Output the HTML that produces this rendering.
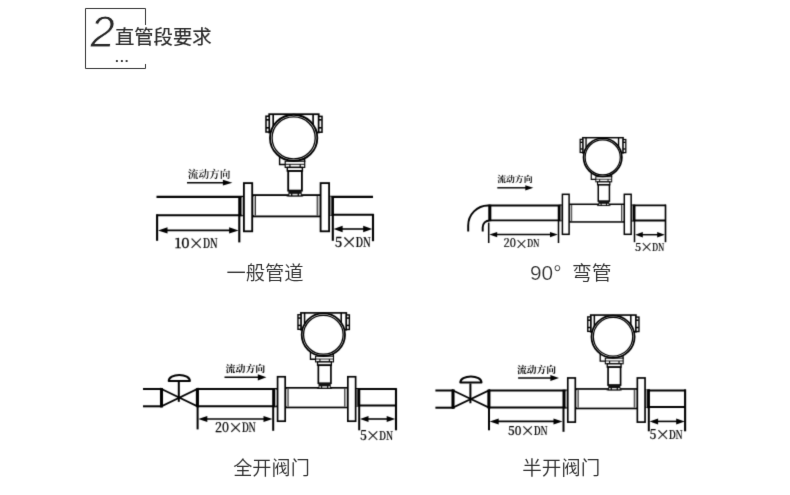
<!DOCTYPE html>
<html lang="zh-CN">
<head>
<meta charset="utf-8">
<title>直管段要求</title>
<style>
html,body{margin:0;padding:0;background:#fff;}
body{width:790px;height:495px;overflow:hidden;font-family:"Liberation Sans","Noto Sans CJK SC",sans-serif;}
svg{display:block;position:absolute;left:0;top:0;}
text{white-space:pre;}
</style>
</head>
<body>
<svg width="790" height="495" viewBox="0 0 790 495">
<filter id="soft" x="0" y="0" width="790" height="495" filterUnits="userSpaceOnUse" color-interpolation-filters="sRGB">
<feConvolveMatrix order="3" kernelMatrix="1 6 1 6 36 6 1 6 1" divisor="64" edgeMode="duplicate" preserveAlpha="false"/>
</filter>
<filter id="soft2" x="0" y="0" width="790" height="495" filterUnits="userSpaceOnUse" color-interpolation-filters="sRGB">
<feConvolveMatrix order="3" kernelMatrix="0 1 0 1 10 1 0 1 0" divisor="14" edgeMode="duplicate" preserveAlpha="false"/>
</filter>
<rect x="0" y="0" width="790" height="495" fill="#fff"/>
<g filter="url(#soft)">
<g><line x1="156.5" y1="196.9" x2="244" y2="196.9" stroke="#000" stroke-width="2.12" stroke-linecap="butt"/>
<line x1="156.3" y1="215.3" x2="244" y2="215.3" stroke="#000" stroke-width="2.12" stroke-linecap="butt"/>
<line x1="157.1" y1="214.4" x2="157.1" y2="240.8" stroke="#000" stroke-width="2.12" stroke-linecap="butt"/>
<line x1="239.3" y1="196" x2="239.3" y2="242.4" stroke="#000" stroke-width="2.12" stroke-linecap="butt"/>
<line x1="240.6" y1="196" x2="240.6" y2="216.2" stroke="#000" stroke-width="2.12" stroke-linecap="butt"/>
<line x1="242.3" y1="197" x2="242.3" y2="215.2" stroke="#bbb" stroke-width="1.3" stroke-linecap="butt"/>
<line x1="165.6" y1="230.4" x2="231" y2="230.4" stroke="#000" stroke-width="1.59" stroke-linecap="butt"/><polygon points="158,230.4 167.5,227.2 167.5,233.6" fill="#000"/><polygon points="238.6,230.4 229.1,227.2 229.1,233.6" fill="#000"/>
<line x1="329" y1="196.9" x2="373" y2="196.9" stroke="#000" stroke-width="2.12" stroke-linecap="butt"/>
<line x1="329" y1="214.8" x2="373.8" y2="214.8" stroke="#000" stroke-width="2.12" stroke-linecap="butt"/>
<line x1="332.8" y1="196" x2="332.8" y2="240.8" stroke="#000" stroke-width="2.12" stroke-linecap="butt"/>
<line x1="330.8" y1="196.5" x2="330.8" y2="215.3" stroke="#999" stroke-width="1.89" stroke-linecap="butt"/>
<line x1="332.6" y1="196" x2="332.6" y2="215.7" stroke="#000" stroke-width="2.24" stroke-linecap="butt"/>
<line x1="373" y1="214" x2="373" y2="241.2" stroke="#000" stroke-width="2.12" stroke-linecap="butt"/>
<line x1="340.8" y1="229" x2="365" y2="229" stroke="#000" stroke-width="1.59" stroke-linecap="butt"/><polygon points="333.6,229 342.6,225.8 342.6,232.2" fill="#000"/><polygon points="372.2,229 363.2,225.8 363.2,232.2" fill="#000"/>
<g transform="matrix(1 0 0 1 0 0)">
<rect x="252.8" y="195.1" width="68" height="21.3" rx="0" fill="#fff" stroke="#000" stroke-width="1.83"/>
<rect x="252.8" y="196.5" width="2.5" height="18.5" rx="0" fill="#c8c8c8" stroke="none" stroke-width="0"/>
<line x1="255.4" y1="196" x2="255.4" y2="215.5" stroke="#222" stroke-width="1.06" stroke-linecap="butt"/>
<rect x="317.3" y="196.5" width="3.3" height="18.5" rx="0" fill="#c8c8c8" stroke="none" stroke-width="0"/>
<line x1="317.2" y1="196" x2="317.2" y2="215.5" stroke="#222" stroke-width="1.06" stroke-linecap="butt"/>
<rect x="243.9" y="183.1" width="8.3" height="48.2" rx="0" fill="#fff" stroke="#000" stroke-width="1.83"/>
<rect x="320.6" y="183.1" width="8.5" height="48.2" rx="0" fill="#fff" stroke="#000" stroke-width="1.83"/>
</g>
<g transform="matrix(1 0 0 1 0 0)">
<rect x="269.2" y="114.2" width="49.5" height="18.3" rx="0" fill="#fff" stroke="#000" stroke-width="1.77"/>
<rect x="266" y="116.2" width="3.2" height="15.8" rx="0" fill="#fff" stroke="#000" stroke-width="1.53"/>
<rect x="318.7" y="116.4" width="3.3" height="15.8" rx="0" fill="#fff" stroke="#000" stroke-width="1.53"/>
<line x1="266" y1="119.8" x2="269" y2="119.8" stroke="#000" stroke-width="1.65" stroke-linecap="butt"/>
<line x1="266" y1="127.8" x2="269" y2="127.8" stroke="#000" stroke-width="1.65" stroke-linecap="butt"/>
<line x1="318.7" y1="119.8" x2="321.7" y2="119.8" stroke="#000" stroke-width="1.65" stroke-linecap="butt"/>
<line x1="318.7" y1="127.8" x2="321.7" y2="127.8" stroke="#000" stroke-width="1.65" stroke-linecap="butt"/>
<line x1="273.2" y1="114" x2="273.2" y2="126" stroke="#000" stroke-width="1.65" stroke-linecap="butt"/>
<line x1="313.1" y1="114" x2="313.1" y2="126" stroke="#000" stroke-width="1.65" stroke-linecap="butt"/>
<path d="M279.6 152 V164.5 H285.6 M304.6 154 V162" fill="none" stroke="#000" stroke-width="1.42"/>
<rect x="285.2" y="161.2" width="19.5" height="6.2" rx="0" fill="#fff" stroke="#000" stroke-width="1.18"/>
<line x1="285.2" y1="164.3" x2="304.7" y2="164.3" stroke="#000" stroke-width="0.94" stroke-linecap="butt"/>
<line x1="289.9" y1="164.3" x2="289.9" y2="167.4" stroke="#000" stroke-width="1.18" stroke-linecap="butt"/>
<line x1="300.2" y1="164.3" x2="300.2" y2="167.4" stroke="#000" stroke-width="1.18" stroke-linecap="butt"/>
<rect x="287.3" y="167.4" width="15.1" height="3.6" rx="0" fill="#fff" stroke="#000" stroke-width="1.42"/>
<rect x="288.2" y="171" width="13.7" height="19.6" rx="0" fill="#fff" stroke="#000" stroke-width="1.83"/>
<rect x="288.4" y="190.4" width="13.3" height="6" rx="0" fill="#111" stroke="none" stroke-width="0"/>
<rect x="289.3" y="193.8" width="1.7" height="1.9" rx="0" fill="#ddd" stroke="none" stroke-width="0"/>
<rect x="299" y="193.8" width="1.9" height="1.9" rx="0" fill="#ddd" stroke="none" stroke-width="0"/>
<rect x="292.4" y="193.8" width="5.2" height="1.9" rx="0" fill="#ddd" stroke="none" stroke-width="0"/>
<ellipse cx="293.65" cy="137.9" rx="23.65" ry="23.15" fill="#fff" stroke="#000" stroke-width="1.85"/>
<ellipse cx="293.65" cy="137.9" rx="21.55" ry="21.05" fill="#fff" stroke="#000" stroke-width="1.3"/>
<line x1="286.6" y1="196" x2="303.2" y2="196" stroke="#000" stroke-width="0.94" stroke-linecap="butt"/>
</g>
<line x1="187" y1="182.7" x2="224.8" y2="182.7" stroke="#000" stroke-width="1.59" stroke-linecap="butt"/><polygon points="232.4,182.7 222.9,179.8 222.9,185.6" fill="#000"/>
<text x="0" y="0" font-family='"Noto Serif CJK SC","Liberation Serif",serif' font-size="10.71" font-weight="600" text-anchor="start" fill="#000" transform="matrix(1 0 0 0.91 187.72 178.27)">流动方向</text>
<text y="247.8" font-family='"Noto Serif CJK SC","Liberation Serif",serif' font-size="13.28" font-weight="700" fill="#000"><tspan x="174.43" font-weight="500" stroke="#000" stroke-width="0.27" textLength="15.14" lengthAdjust="spacingAndGlyphs">10</tspan><tspan x="188.58" dy="1.07" font-size="15.45" font-weight="900" stroke="#000" stroke-width="0.29">×</tspan><tspan x="202.77" dy="-1.07" font-weight="600" stroke="#000" stroke-width="0.21" textLength="14.96" lengthAdjust="spacingAndGlyphs">DN</tspan></text>
<text y="247.4" font-family='"Noto Serif CJK SC","Liberation Serif",serif' font-size="13.53" font-weight="700" fill="#000"><tspan x="334.66" font-weight="500" stroke="#000" stroke-width="0.27" textLength="7.48" lengthAdjust="spacingAndGlyphs">5</tspan><tspan x="341.15" dy="1.09" font-size="15.74" font-weight="900" stroke="#000" stroke-width="0.3">×</tspan><tspan x="355.6" dy="-1.09" font-weight="600" stroke="#000" stroke-width="0.22" textLength="15.24" lengthAdjust="spacingAndGlyphs">DN</tspan></text></g>
<g><line x1="489" y1="205.5" x2="562" y2="205.5" stroke="#000" stroke-width="1.89" stroke-linecap="butt"/>
<line x1="489" y1="220.4" x2="562" y2="220.4" stroke="#000" stroke-width="1.89" stroke-linecap="butt"/>
<line x1="489.8" y1="204.7" x2="489.8" y2="221.2" stroke="#000" stroke-width="3.07" stroke-linecap="butt"/>
<path d="M489.5 205.5 H488 A19.8 20 0 0 0 468.2 225.5 V231.4" fill="none" stroke="#000" stroke-width="1.95"/>
<path d="M489.5 220.4 A6.8 6.8 0 0 0 482.7 227.2 V231.4" fill="none" stroke="#000" stroke-width="1.95"/>
<line x1="488.7" y1="222.6" x2="488.7" y2="243" stroke="#000" stroke-width="1.53" stroke-linecap="butt"/>
<line x1="558.5" y1="205" x2="558.5" y2="243" stroke="#000" stroke-width="1.53" stroke-linecap="butt"/>
<line x1="559.7" y1="204.7" x2="559.7" y2="221.2" stroke="#000" stroke-width="2.12" stroke-linecap="butt"/>
<line x1="561.3" y1="205.4" x2="561.3" y2="220.6" stroke="#999" stroke-width="1.65" stroke-linecap="butt"/>
<line x1="495.64" y1="234.6" x2="551.56" y2="234.6" stroke="#000" stroke-width="1.47" stroke-linecap="butt"/><polygon points="489.4,234.6 497.2,231.9 497.2,237.3" fill="#000"/><polygon points="557.8,234.6 550,231.9 550,237.3" fill="#000"/>
<line x1="631" y1="205.4" x2="666" y2="205.4" stroke="#000" stroke-width="1.89" stroke-linecap="butt"/>
<line x1="631" y1="220.5" x2="666" y2="220.5" stroke="#000" stroke-width="1.89" stroke-linecap="butt"/>
<line x1="634.5" y1="205" x2="634.5" y2="242.2" stroke="#000" stroke-width="1.53" stroke-linecap="butt"/>
<line x1="632.3" y1="205.4" x2="632.3" y2="220.6" stroke="#999" stroke-width="2.12" stroke-linecap="butt"/>
<line x1="634.1" y1="204.6" x2="634.1" y2="221.2" stroke="#000" stroke-width="2.36" stroke-linecap="butt"/>
<line x1="665.5" y1="204.6" x2="665.5" y2="242.2" stroke="#000" stroke-width="1.65" stroke-linecap="butt"/>
<line x1="641.28" y1="234.7" x2="658.72" y2="234.7" stroke="#000" stroke-width="1.47" stroke-linecap="butt"/><polygon points="635.2,234.7 642.8,232 642.8,237.4" fill="#000"/><polygon points="664.8,234.7 657.2,232 657.2,237.4" fill="#000"/>
<g transform="matrix(0.807 0 0 0.83 365.58 42.34)">
<rect x="252.8" y="195.1" width="68" height="21.3" rx="0" fill="#fff" stroke="#000" stroke-width="1.83"/>
<rect x="252.8" y="196.5" width="2.5" height="18.5" rx="0" fill="#c8c8c8" stroke="none" stroke-width="0"/>
<line x1="255.4" y1="196" x2="255.4" y2="215.5" stroke="#222" stroke-width="1.06" stroke-linecap="butt"/>
<rect x="317.3" y="196.5" width="3.3" height="18.5" rx="0" fill="#c8c8c8" stroke="none" stroke-width="0"/>
<line x1="317.2" y1="196" x2="317.2" y2="215.5" stroke="#222" stroke-width="1.06" stroke-linecap="butt"/>
<rect x="243.9" y="183.1" width="8.3" height="48.2" rx="0" fill="#fff" stroke="#000" stroke-width="1.83"/>
<rect x="320.6" y="183.1" width="8.5" height="48.2" rx="0" fill="#fff" stroke="#000" stroke-width="1.83"/>
</g>
<g transform="matrix(0.815 0 0 0.83 363.38 42.91)">
<rect x="269.2" y="114.2" width="49.5" height="18.3" rx="0" fill="#fff" stroke="#000" stroke-width="1.77"/>
<rect x="266" y="116.2" width="3.2" height="15.8" rx="0" fill="#fff" stroke="#000" stroke-width="1.53"/>
<rect x="318.7" y="116.4" width="3.3" height="15.8" rx="0" fill="#fff" stroke="#000" stroke-width="1.53"/>
<line x1="266" y1="119.8" x2="269" y2="119.8" stroke="#000" stroke-width="1.65" stroke-linecap="butt"/>
<line x1="266" y1="127.8" x2="269" y2="127.8" stroke="#000" stroke-width="1.65" stroke-linecap="butt"/>
<line x1="318.7" y1="119.8" x2="321.7" y2="119.8" stroke="#000" stroke-width="1.65" stroke-linecap="butt"/>
<line x1="318.7" y1="127.8" x2="321.7" y2="127.8" stroke="#000" stroke-width="1.65" stroke-linecap="butt"/>
<line x1="273.2" y1="114" x2="273.2" y2="126" stroke="#000" stroke-width="1.65" stroke-linecap="butt"/>
<line x1="313.1" y1="114" x2="313.1" y2="126" stroke="#000" stroke-width="1.65" stroke-linecap="butt"/>
<path d="M279.6 152 V164.5 H285.6 M304.6 154 V162" fill="none" stroke="#000" stroke-width="1.42"/>
<rect x="285.2" y="161.2" width="19.5" height="6.2" rx="0" fill="#fff" stroke="#000" stroke-width="1.18"/>
<line x1="285.2" y1="164.3" x2="304.7" y2="164.3" stroke="#000" stroke-width="0.94" stroke-linecap="butt"/>
<line x1="289.9" y1="164.3" x2="289.9" y2="167.4" stroke="#000" stroke-width="1.18" stroke-linecap="butt"/>
<line x1="300.2" y1="164.3" x2="300.2" y2="167.4" stroke="#000" stroke-width="1.18" stroke-linecap="butt"/>
<rect x="287.3" y="167.4" width="15.1" height="3.6" rx="0" fill="#fff" stroke="#000" stroke-width="1.42"/>
<rect x="288.2" y="171" width="13.7" height="19.6" rx="0" fill="#fff" stroke="#000" stroke-width="1.83"/>
<rect x="288.4" y="190.4" width="13.3" height="6" rx="0" fill="#111" stroke="none" stroke-width="0"/>
<rect x="289.3" y="193.8" width="1.7" height="1.9" rx="0" fill="#ddd" stroke="none" stroke-width="0"/>
<rect x="299" y="193.8" width="1.9" height="1.9" rx="0" fill="#ddd" stroke="none" stroke-width="0"/>
<rect x="292.4" y="193.8" width="5.2" height="1.9" rx="0" fill="#ddd" stroke="none" stroke-width="0"/>
<ellipse cx="293.65" cy="137.9" rx="23.54" ry="23.04" fill="#fff" stroke="#000" stroke-width="2.07"/>
<ellipse cx="293.65" cy="137.9" rx="21.55" ry="21.05" fill="#fff" stroke="#000" stroke-width="1.46"/>
<line x1="286.6" y1="196" x2="303.2" y2="196" stroke="#000" stroke-width="0.94" stroke-linecap="butt"/>
</g>
<line x1="497.3" y1="187.8" x2="526.9" y2="187.8" stroke="#000" stroke-width="1.42" stroke-linecap="butt"/><polygon points="533.3,187.8 525.3,185.2 525.3,190.4" fill="#000"/>
<text x="0" y="0" font-family='"Noto Serif CJK SC","Liberation Serif",serif' font-size="8.86" font-weight="700" text-anchor="start" fill="#000" transform="matrix(1 0 0 0.9 497.2 181.82)">流动方向</text>
<text y="247.2" font-family='"Noto Serif CJK SC","Liberation Serif",serif' font-size="11.12" font-weight="700" fill="#000"><tspan x="503.59" font-weight="500" stroke="#000" stroke-width="0.22" textLength="12.29" lengthAdjust="spacingAndGlyphs">20</tspan><tspan x="515.06" dy="0.89" font-size="12.93" font-weight="900" stroke="#000" stroke-width="0.24">×</tspan><tspan x="526.94" dy="-0.89" font-weight="600" stroke="#000" stroke-width="0.18" textLength="12.52" lengthAdjust="spacingAndGlyphs">DN</tspan></text>
<text y="250.6" font-family='"Noto Serif CJK SC","Liberation Serif",serif' font-size="10.95" font-weight="700" fill="#000"><tspan x="635.06" font-weight="500" stroke="#000" stroke-width="0.22" textLength="6.05" lengthAdjust="spacingAndGlyphs">5</tspan><tspan x="640.32" dy="0.88" font-size="12.74" font-weight="900" stroke="#000" stroke-width="0.24">×</tspan><tspan x="652.02" dy="-0.88" font-weight="600" stroke="#000" stroke-width="0.18" textLength="12.34" lengthAdjust="spacingAndGlyphs">DN</tspan></text></g>
<g><line x1="143" y1="389" x2="163" y2="389" stroke="#000" stroke-width="2.01" stroke-linecap="butt"/>
<line x1="143" y1="406.3" x2="163" y2="406.3" stroke="#000" stroke-width="2.01" stroke-linecap="butt"/>
<path d="M161.5 389 L197.4 406.3 L197.4 389 L161.5 406.3 Z" fill="#fff" stroke="#000" stroke-width="1.8" stroke-linejoin="miter"/>
<line x1="161.5" y1="388.1" x2="161.5" y2="407.2" stroke="#000" stroke-width="3.07" stroke-linecap="butt"/>
<line x1="197.4" y1="388.1" x2="197.4" y2="407.2" stroke="#000" stroke-width="3.07" stroke-linecap="butt"/>
<line x1="178.8" y1="381.9" x2="178.8" y2="401.85" stroke="#000" stroke-width="2.01" stroke-linecap="butt"/>
<path d="M168.7 381.1 A10.6 6.2 0 0 1 189.9 381.1 Z" fill="#fff" stroke="#000" stroke-width="2.0" stroke-linejoin="round"/>
<line x1="197" y1="389" x2="277.5" y2="389" stroke="#000" stroke-width="2.01" stroke-linecap="butt"/>
<line x1="197" y1="406.3" x2="277.5" y2="406.3" stroke="#000" stroke-width="2.01" stroke-linecap="butt"/>
<line x1="197.6" y1="406" x2="197.6" y2="429.4" stroke="#000" stroke-width="2.01" stroke-linecap="butt"/>
<line x1="273.2" y1="388.2" x2="273.2" y2="430.8" stroke="#000" stroke-width="2.01" stroke-linecap="butt"/>
<line x1="274.3" y1="388.2" x2="274.3" y2="407.2" stroke="#000" stroke-width="1.89" stroke-linecap="butt"/>
<line x1="275.9" y1="389" x2="275.9" y2="406.3" stroke="#bbb" stroke-width="1.18" stroke-linecap="butt"/>
<line x1="205.5" y1="419" x2="265.3" y2="419" stroke="#000" stroke-width="1.59" stroke-linecap="butt"/><polygon points="198.3,419 207.3,416 207.3,422" fill="#000"/><polygon points="272.5,419 263.5,416 263.5,422" fill="#000"/>
<line x1="355" y1="389" x2="396.6" y2="389" stroke="#000" stroke-width="2.01" stroke-linecap="butt"/>
<line x1="355" y1="405.6" x2="396.6" y2="405.6" stroke="#000" stroke-width="2.01" stroke-linecap="butt"/>
<line x1="359.2" y1="388.2" x2="359.2" y2="430.3" stroke="#000" stroke-width="2.01" stroke-linecap="butt"/>
<line x1="356.9" y1="389" x2="356.9" y2="406" stroke="#999" stroke-width="2.36" stroke-linecap="butt"/>
<line x1="358.8" y1="388.2" x2="358.8" y2="406.4" stroke="#000" stroke-width="2.6" stroke-linecap="butt"/>
<line x1="396" y1="388.2" x2="396" y2="430.3" stroke="#000" stroke-width="2.12" stroke-linecap="butt"/>
<line x1="366.8" y1="419" x2="388.4" y2="419" stroke="#000" stroke-width="1.59" stroke-linecap="butt"/><polygon points="360,419 368.5,416 368.5,422" fill="#000"/><polygon points="395.2,419 386.7,416 386.7,422" fill="#000"/>
<g transform="matrix(0.916 0 0 0.922 54.17 207.94)">
<rect x="252.8" y="195.1" width="68" height="21.3" rx="0" fill="#fff" stroke="#000" stroke-width="1.83"/>
<rect x="252.8" y="196.5" width="2.5" height="18.5" rx="0" fill="#c8c8c8" stroke="none" stroke-width="0"/>
<line x1="255.4" y1="196" x2="255.4" y2="215.5" stroke="#222" stroke-width="1.06" stroke-linecap="butt"/>
<rect x="317.3" y="196.5" width="3.3" height="18.5" rx="0" fill="#c8c8c8" stroke="none" stroke-width="0"/>
<line x1="317.2" y1="196" x2="317.2" y2="215.5" stroke="#222" stroke-width="1.06" stroke-linecap="butt"/>
<rect x="243.9" y="183.1" width="8.3" height="48.2" rx="0" fill="#fff" stroke="#000" stroke-width="1.83"/>
<rect x="320.6" y="183.1" width="8.5" height="48.2" rx="0" fill="#fff" stroke="#000" stroke-width="1.83"/>
</g>
<g transform="matrix(0.918 0 0 0.921 53.78 207.72)">
<rect x="269.2" y="114.2" width="49.5" height="18.3" rx="0" fill="#fff" stroke="#000" stroke-width="1.77"/>
<rect x="266" y="116.2" width="3.2" height="15.8" rx="0" fill="#fff" stroke="#000" stroke-width="1.53"/>
<rect x="318.7" y="116.4" width="3.3" height="15.8" rx="0" fill="#fff" stroke="#000" stroke-width="1.53"/>
<line x1="266" y1="119.8" x2="269" y2="119.8" stroke="#000" stroke-width="1.65" stroke-linecap="butt"/>
<line x1="266" y1="127.8" x2="269" y2="127.8" stroke="#000" stroke-width="1.65" stroke-linecap="butt"/>
<line x1="318.7" y1="119.8" x2="321.7" y2="119.8" stroke="#000" stroke-width="1.65" stroke-linecap="butt"/>
<line x1="318.7" y1="127.8" x2="321.7" y2="127.8" stroke="#000" stroke-width="1.65" stroke-linecap="butt"/>
<line x1="273.2" y1="114" x2="273.2" y2="126" stroke="#000" stroke-width="1.65" stroke-linecap="butt"/>
<line x1="313.1" y1="114" x2="313.1" y2="126" stroke="#000" stroke-width="1.65" stroke-linecap="butt"/>
<path d="M279.6 152 V164.5 H285.6 M304.6 154 V162" fill="none" stroke="#000" stroke-width="1.42"/>
<rect x="285.2" y="161.2" width="19.5" height="6.2" rx="0" fill="#fff" stroke="#000" stroke-width="1.18"/>
<line x1="285.2" y1="164.3" x2="304.7" y2="164.3" stroke="#000" stroke-width="0.94" stroke-linecap="butt"/>
<line x1="289.9" y1="164.3" x2="289.9" y2="167.4" stroke="#000" stroke-width="1.18" stroke-linecap="butt"/>
<line x1="300.2" y1="164.3" x2="300.2" y2="167.4" stroke="#000" stroke-width="1.18" stroke-linecap="butt"/>
<rect x="287.3" y="167.4" width="15.1" height="3.6" rx="0" fill="#fff" stroke="#000" stroke-width="1.42"/>
<rect x="288.2" y="171" width="13.7" height="19.6" rx="0" fill="#fff" stroke="#000" stroke-width="1.83"/>
<rect x="288.4" y="190.4" width="13.3" height="6" rx="0" fill="#111" stroke="none" stroke-width="0"/>
<rect x="289.3" y="193.8" width="1.7" height="1.9" rx="0" fill="#ddd" stroke="none" stroke-width="0"/>
<rect x="299" y="193.8" width="1.9" height="1.9" rx="0" fill="#ddd" stroke="none" stroke-width="0"/>
<rect x="292.4" y="193.8" width="5.2" height="1.9" rx="0" fill="#ddd" stroke="none" stroke-width="0"/>
<ellipse cx="293.65" cy="137.9" rx="23.6" ry="23.1" fill="#fff" stroke="#000" stroke-width="1.94"/>
<ellipse cx="293.65" cy="137.9" rx="21.55" ry="21.05" fill="#fff" stroke="#000" stroke-width="1.37"/>
<line x1="286.6" y1="196" x2="303.2" y2="196" stroke="#000" stroke-width="0.94" stroke-linecap="butt"/>
</g>
<line x1="224.5" y1="377.3" x2="259.52" y2="377.3" stroke="#000" stroke-width="1.59" stroke-linecap="butt"/><polygon points="266.4,377.3 257.8,374.2 257.8,380.4" fill="#000"/>
<text x="0" y="0" font-family='"Noto Serif CJK SC","Liberation Serif",serif' font-size="9.96" font-weight="700" text-anchor="start" fill="#000" transform="matrix(1 0 0 0.92 225.55 371.82)">流动方向</text>
<text y="432.1" font-family='"Noto Serif CJK SC","Liberation Serif",serif' font-size="12.64" font-weight="700" fill="#000"><tspan x="215.1" font-weight="500" stroke="#000" stroke-width="0.25" textLength="13.98" lengthAdjust="spacingAndGlyphs">20</tspan><tspan x="228.16" dy="1.02" font-size="14.71" font-weight="900" stroke="#000" stroke-width="0.28">×</tspan><tspan x="241.67" dy="-1.02" font-weight="600" stroke="#000" stroke-width="0.2" textLength="14.24" lengthAdjust="spacingAndGlyphs">DN</tspan></text>
<text y="440.4" font-family='"Noto Serif CJK SC","Liberation Serif",serif' font-size="12.41" font-weight="700" fill="#000"><tspan x="359.9" font-weight="500" stroke="#000" stroke-width="0.25" textLength="6.86" lengthAdjust="spacingAndGlyphs">5</tspan><tspan x="365.86" dy="1" font-size="14.44" font-weight="900" stroke="#000" stroke-width="0.27">×</tspan><tspan x="379.12" dy="-1" font-weight="600" stroke="#000" stroke-width="0.2" textLength="13.98" lengthAdjust="spacingAndGlyphs">DN</tspan></text></g>
<g><line x1="435.4" y1="390.5" x2="454.5" y2="390.5" stroke="#000" stroke-width="2.01" stroke-linecap="butt"/>
<line x1="435.4" y1="407.7" x2="454.5" y2="407.7" stroke="#000" stroke-width="2.01" stroke-linecap="butt"/>
<path d="M453 390.5 L488.9 407.6 L488.9 390.5 L453 407.6 Z" fill="#fff" stroke="#000" stroke-width="1.8" stroke-linejoin="miter"/>
<line x1="453" y1="389.6" x2="453" y2="408.5" stroke="#000" stroke-width="3.07" stroke-linecap="butt"/>
<line x1="488.9" y1="389.6" x2="488.9" y2="408.5" stroke="#000" stroke-width="3.07" stroke-linecap="butt"/>
<line x1="470.4" y1="383.4" x2="470.4" y2="403.25" stroke="#000" stroke-width="2.01" stroke-linecap="butt"/>
<path d="M460.3 382.6 A10.6 6.2 0 0 1 481.5 382.6 Z" fill="#fff" stroke="#000" stroke-width="2.0" stroke-linejoin="round"/>
<line x1="488.5" y1="390.5" x2="567.6" y2="390.5" stroke="#000" stroke-width="2.01" stroke-linecap="butt"/>
<line x1="488.5" y1="407.5" x2="567.6" y2="407.5" stroke="#000" stroke-width="2.01" stroke-linecap="butt"/>
<line x1="489" y1="407" x2="489" y2="430.3" stroke="#000" stroke-width="2.01" stroke-linecap="butt"/>
<line x1="563.5" y1="389.7" x2="563.5" y2="431.8" stroke="#000" stroke-width="2.01" stroke-linecap="butt"/>
<line x1="564.7" y1="389.7" x2="564.7" y2="408.3" stroke="#000" stroke-width="1.89" stroke-linecap="butt"/>
<line x1="566.3" y1="390.5" x2="566.3" y2="407.5" stroke="#bbb" stroke-width="1.18" stroke-linecap="butt"/>
<line x1="496.9" y1="421.4" x2="555.3" y2="421.4" stroke="#000" stroke-width="1.59" stroke-linecap="butt"/><polygon points="489.7,421.4 498.7,418.4 498.7,424.4" fill="#000"/><polygon points="562.5,421.4 553.5,418.4 553.5,424.4" fill="#000"/>
<line x1="645" y1="390.6" x2="686" y2="390.6" stroke="#000" stroke-width="2.01" stroke-linecap="butt"/>
<line x1="645" y1="407.1" x2="686" y2="407.1" stroke="#000" stroke-width="2.01" stroke-linecap="butt"/>
<line x1="648.8" y1="389.4" x2="648.8" y2="431.3" stroke="#000" stroke-width="2.01" stroke-linecap="butt"/>
<line x1="646.5" y1="390" x2="646.5" y2="407.6" stroke="#999" stroke-width="2.36" stroke-linecap="butt"/>
<line x1="648.4" y1="389.4" x2="648.4" y2="408.2" stroke="#000" stroke-width="2.6" stroke-linecap="butt"/>
<line x1="685.1" y1="389.4" x2="685.1" y2="431.3" stroke="#000" stroke-width="2.12" stroke-linecap="butt"/>
<line x1="656.4" y1="421.4" x2="677.9" y2="421.4" stroke="#000" stroke-width="1.59" stroke-linecap="butt"/><polygon points="649.6,421.4 658.1,418.4 658.1,424.4" fill="#000"/><polygon points="684.7,421.4 676.2,418.4 676.2,424.4" fill="#000"/>
<g transform="matrix(0.907 0 0 0.916 346.56 210.24)">
<rect x="252.8" y="195.1" width="68" height="21.3" rx="0" fill="#fff" stroke="#000" stroke-width="1.83"/>
<rect x="252.8" y="196.5" width="2.5" height="18.5" rx="0" fill="#c8c8c8" stroke="none" stroke-width="0"/>
<line x1="255.4" y1="196" x2="255.4" y2="215.5" stroke="#222" stroke-width="1.06" stroke-linecap="butt"/>
<rect x="317.3" y="196.5" width="3.3" height="18.5" rx="0" fill="#c8c8c8" stroke="none" stroke-width="0"/>
<line x1="317.2" y1="196" x2="317.2" y2="215.5" stroke="#222" stroke-width="1.06" stroke-linecap="butt"/>
<rect x="243.9" y="183.1" width="8.3" height="48.2" rx="0" fill="#fff" stroke="#000" stroke-width="1.83"/>
<rect x="320.6" y="183.1" width="8.5" height="48.2" rx="0" fill="#fff" stroke="#000" stroke-width="1.83"/>
</g>
<g transform="matrix(0.914 0 0 0.916 344.65 210.46)">
<rect x="269.2" y="114.2" width="49.5" height="18.3" rx="0" fill="#fff" stroke="#000" stroke-width="1.77"/>
<rect x="266" y="116.2" width="3.2" height="15.8" rx="0" fill="#fff" stroke="#000" stroke-width="1.53"/>
<rect x="318.7" y="116.4" width="3.3" height="15.8" rx="0" fill="#fff" stroke="#000" stroke-width="1.53"/>
<line x1="266" y1="119.8" x2="269" y2="119.8" stroke="#000" stroke-width="1.65" stroke-linecap="butt"/>
<line x1="266" y1="127.8" x2="269" y2="127.8" stroke="#000" stroke-width="1.65" stroke-linecap="butt"/>
<line x1="318.7" y1="119.8" x2="321.7" y2="119.8" stroke="#000" stroke-width="1.65" stroke-linecap="butt"/>
<line x1="318.7" y1="127.8" x2="321.7" y2="127.8" stroke="#000" stroke-width="1.65" stroke-linecap="butt"/>
<line x1="273.2" y1="114" x2="273.2" y2="126" stroke="#000" stroke-width="1.65" stroke-linecap="butt"/>
<line x1="313.1" y1="114" x2="313.1" y2="126" stroke="#000" stroke-width="1.65" stroke-linecap="butt"/>
<path d="M279.6 152 V164.5 H285.6 M304.6 154 V162" fill="none" stroke="#000" stroke-width="1.42"/>
<rect x="285.2" y="161.2" width="19.5" height="6.2" rx="0" fill="#fff" stroke="#000" stroke-width="1.18"/>
<line x1="285.2" y1="164.3" x2="304.7" y2="164.3" stroke="#000" stroke-width="0.94" stroke-linecap="butt"/>
<line x1="289.9" y1="164.3" x2="289.9" y2="167.4" stroke="#000" stroke-width="1.18" stroke-linecap="butt"/>
<line x1="300.2" y1="164.3" x2="300.2" y2="167.4" stroke="#000" stroke-width="1.18" stroke-linecap="butt"/>
<rect x="287.3" y="167.4" width="15.1" height="3.6" rx="0" fill="#fff" stroke="#000" stroke-width="1.42"/>
<rect x="288.2" y="171" width="13.7" height="19.6" rx="0" fill="#fff" stroke="#000" stroke-width="1.83"/>
<rect x="288.4" y="190.4" width="13.3" height="6" rx="0" fill="#111" stroke="none" stroke-width="0"/>
<rect x="289.3" y="193.8" width="1.7" height="1.9" rx="0" fill="#ddd" stroke="none" stroke-width="0"/>
<rect x="299" y="193.8" width="1.9" height="1.9" rx="0" fill="#ddd" stroke="none" stroke-width="0"/>
<rect x="292.4" y="193.8" width="5.2" height="1.9" rx="0" fill="#ddd" stroke="none" stroke-width="0"/>
<ellipse cx="293.65" cy="137.9" rx="23.6" ry="23.1" fill="#fff" stroke="#000" stroke-width="1.94"/>
<ellipse cx="293.65" cy="137.9" rx="21.55" ry="21.05" fill="#fff" stroke="#000" stroke-width="1.37"/>
<line x1="286.6" y1="196" x2="303.2" y2="196" stroke="#000" stroke-width="0.94" stroke-linecap="butt"/>
</g>
<line x1="518.1" y1="378" x2="552.12" y2="378" stroke="#000" stroke-width="1.59" stroke-linecap="butt"/><polygon points="559,378 550.4,374.9 550.4,381.1" fill="#000"/>
<text x="0" y="0" font-family='"Noto Serif CJK SC","Liberation Serif",serif' font-size="9.78" font-weight="700" text-anchor="start" fill="#000" transform="matrix(1 0 0 0.92 517.06 373.34)">流动方向</text>
<text y="435.4" font-family='"Noto Serif CJK SC","Liberation Serif",serif' font-size="12.29" font-weight="700" fill="#000"><tspan x="508.11" font-weight="500" stroke="#000" stroke-width="0.25" textLength="13.39" lengthAdjust="spacingAndGlyphs">50</tspan><tspan x="520.62" dy="0.99" font-size="14.3" font-weight="900" stroke="#000" stroke-width="0.27">×</tspan><tspan x="533.75" dy="-0.99" font-weight="600" stroke="#000" stroke-width="0.2" textLength="13.85" lengthAdjust="spacingAndGlyphs">DN</tspan></text>
<text y="439.4" font-family='"Noto Serif CJK SC","Liberation Serif",serif' font-size="12.45" font-weight="700" fill="#000"><tspan x="649.4" font-weight="500" stroke="#000" stroke-width="0.25" textLength="6.88" lengthAdjust="spacingAndGlyphs">5</tspan><tspan x="655.38" dy="1" font-size="14.49" font-weight="900" stroke="#000" stroke-width="0.27">×</tspan><tspan x="668.68" dy="-1" font-weight="600" stroke="#000" stroke-width="0.2" textLength="14.03" lengthAdjust="spacingAndGlyphs">DN</tspan></text></g>
</g>
<g filter="url(#soft2)">
<path d="M145.5 25 V8.5 H85.5 V68.5 H145.5 V64" fill="none" stroke="#333" stroke-width="1"/>
<text x="90.3" y="46.9" font-family='"Liberation Sans","Noto Sans CJK SC",sans-serif' font-size="44" font-weight="400" text-anchor="start" fill="#2a2a2a" font-style="italic" stroke="#fff" stroke-width="0.8" stroke-linejoin="round">2</text>
<text x="114.93" y="43.86" font-family='"Noto Sans CJK SC","Liberation Sans",sans-serif' font-size="19.35" font-weight="400" text-anchor="start" fill="#2a2a2a" stroke="#2a2a2a" stroke-width="0.2">直管段要求</text>
<text x="115.1" y="61.7" font-family='"Liberation Sans","Noto Sans CJK SC",sans-serif' font-size="13.5" font-weight="700" text-anchor="start" fill="#333" letter-spacing="1.1">...</text>
<text x="226.44" y="279.56" font-family='"Noto Sans CJK SC","Liberation Sans",sans-serif' font-size="19.26" font-weight="350" text-anchor="start" fill="#2e2e2e">一般管道</text>
<text font-family='"Liberation Sans","Noto Sans CJK SC",sans-serif' font-size="20.78" font-weight="400" fill="#333"><tspan x="530.06" y="279.69" stroke="#fff" stroke-width="0.2">90°</tspan><tspan font-size="8"> </tspan><tspan x="571.91" y="279.51" font-family='"Noto Sans CJK SC","Liberation Sans",sans-serif' font-size="19.84" font-weight="350" fill="#2e2e2e">弯管</tspan></text>
<text x="233.23" y="474.56" font-family='"Noto Sans CJK SC","Liberation Sans",sans-serif' font-size="19.15" font-weight="350" text-anchor="start" fill="#2e2e2e">全开阀门</text>
<text x="522.13" y="474.54" font-family='"Noto Sans CJK SC","Liberation Sans",sans-serif' font-size="19.53" font-weight="350" text-anchor="start" fill="#2e2e2e">半开阀门</text>
</g>
</svg>
</body>
</html>
